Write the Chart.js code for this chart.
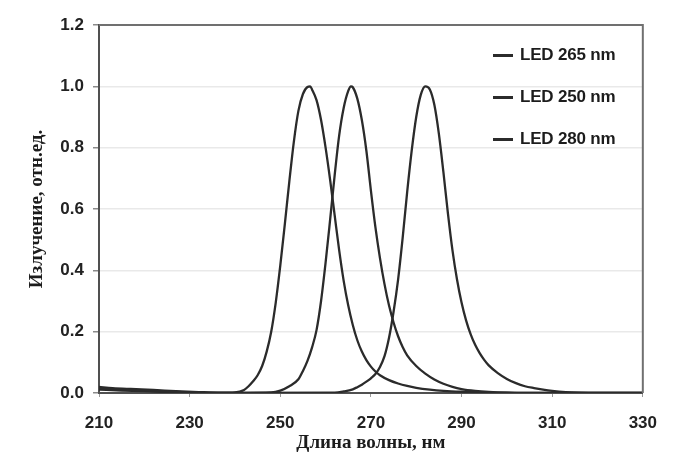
<!DOCTYPE html>
<html>
<head>
<meta charset="utf-8">
<script src="https://cdn.jsdelivr.net/npm/chart.js@4/dist/chart.umd.min.js"></script>
<style>
  body { margin: 0; background: #fff; }
  #wrap { position: relative; width: 673px; height: 459px; }
  #legend { position: absolute; left: 493px; top: 43px; font: bold 17px "Liberation Sans", Arial, sans-serif; color: #1c1c1c; }
  #legend .row { display: flex; align-items: center; height: 24px; margin-bottom: 18px; letter-spacing: -0.2px; }
  #legend .swatch { width: 20px; height: 3px; margin-right: 7px; }
</style>
</head>
<body>
<div id="wrap">
  <canvas id="spectra"></canvas>
  <div id="legend"></div>
</div>
<script>
// Normalised emission spectra of three UV LEDs (wavelength, nm -> relative intensity)
const wl265 = [210, 215, 220, 225, 230, 235, 248, 250, 252, 254, 255, 256, 257, 258, 259, 260, 261, 262, 263, 264, 265, 265.6,
  266, 267, 268, 269, 270, 271, 272, 273, 274, 275, 276, 277, 278, 280, 282, 284, 286, 288, 290, 293, 296, 300, 305, 330];
const led265 = [0.014, 0.011, 0.008, 0.005, 0.002, 0, 0.002, 0.008, 0.022, 0.045, 0.072, 0.105, 0.148, 0.205, 0.3, 0.425, 0.565, 0.71, 0.84, 0.93, 0.985, 1.0,
  0.997, 0.96, 0.89, 0.79, 0.66, 0.54, 0.44, 0.355, 0.285, 0.23, 0.185, 0.15, 0.123, 0.088, 0.063, 0.044, 0.03, 0.02, 0.013, 0.007, 0.0035, 0.001, 0, 0];

const wl250 = [210, 213, 217, 222, 227, 232, 237, 240, 242, 243, 244, 245, 246, 247, 248, 249, 250, 251, 252, 253, 254, 255, 256, 256.6,
  257, 258, 259, 260, 261, 262, 263, 264, 265, 266, 267, 268, 269, 270, 271, 272, 274, 276, 278, 280, 283, 286, 290, 295, 300, 305, 330];
const led250 = [0.02, 0.016, 0.013, 0.01, 0.006, 0.003, 0.001, 0.002, 0.01, 0.022, 0.038, 0.058, 0.088, 0.135, 0.2, 0.295, 0.415, 0.55, 0.69, 0.82, 0.92, 0.975, 0.998, 1.0,
  0.99, 0.955, 0.89, 0.8, 0.695, 0.58, 0.465, 0.365, 0.285, 0.222, 0.172, 0.135, 0.107, 0.086, 0.07, 0.058, 0.042, 0.031, 0.023, 0.017, 0.011, 0.007, 0.004, 0.002, 0.001, 0, 0];

const wl280 = [210, 215, 220, 225, 230, 235, 262, 264, 266, 267, 268, 269, 270, 271, 272, 273, 274, 275, 276, 277, 278, 279, 280, 281, 282,
  283, 284, 285, 286, 287, 288, 289, 290, 291, 292, 293, 294, 295, 296, 298, 300, 302, 304, 306, 308, 310, 313, 316, 320, 330];
const led280 = [0.011, 0.008, 0.006, 0.003, 0.001, 0, 0.001, 0.005, 0.012, 0.019, 0.027, 0.037, 0.048, 0.062, 0.085, 0.12, 0.18, 0.265, 0.37, 0.505, 0.655, 0.79, 0.9, 0.972, 1.0,
  0.99, 0.94, 0.845, 0.72, 0.585, 0.465, 0.37, 0.295, 0.237, 0.192, 0.157, 0.13, 0.108, 0.09, 0.065, 0.046, 0.032, 0.022, 0.016, 0.011, 0.007, 0.003, 0.001, 0, 0];

const seriesLabels = ['LED 265 nm', 'LED 250 nm', 'LED 280 nm'];
const xTicks = [210, 230, 250, 270, 290, 310, 330];
const yTicks = [0, 0.2, 0.4, 0.6, 0.8, 1.0, 1.2];

const lineColor = '#2b2b2b';
const tickFont = { family: '"Liberation Sans", Arial, sans-serif', size: 17, weight: 'bold' };
const titleFont = { family: '"Liberation Serif", "Times New Roman", serif', size: 19, weight: 'bold' };

const toPoints = (xs, ys) => xs.map((x, i) => ({ x, y: ys[i] }));

function lineSet(label, xs, ys) {
  return {
    label,
    data: toPoints(xs, ys),
    borderColor: lineColor,
    backgroundColor: lineColor,
    borderWidth: 2.3,
    pointRadius: 0,
    cubicInterpolationMode: 'monotone',
    fill: false,
  };
}

// top and right edges of the plot frame
const frame = {
  id: 'frame',
  afterDraw(chart) {
    const { ctx, chartArea: a } = chart;
    ctx.save();
    ctx.strokeStyle = '#707070';
    ctx.lineWidth = 2;
    ctx.beginPath();
    ctx.moveTo(a.left, a.top);
    ctx.lineTo(a.right, a.top);
    ctx.lineTo(a.right, a.bottom);
    ctx.stroke();
    ctx.restore();
  },
};

const chart = new Chart(document.getElementById('spectra'), {
  type: 'line',
  data: {
    datasets: [
      lineSet(seriesLabels[0], wl265, led265),
      lineSet(seriesLabels[1], wl250, led250),
      lineSet(seriesLabels[2], wl280, led280),
    ],
  },
  options: {
    responsive: true,
    maintainAspectRatio: false,
    animation: false,
    layout: { padding: { top: 25, right: 25, left: 0, bottom: 0 } },
    plugins: { legend: { display: false }, tooltip: { enabled: false } },
    scales: {
      x: {
        type: 'linear',
        min: xTicks[0],
        max: xTicks[xTicks.length - 1],
        afterBuildTicks: (s) => { s.ticks = xTicks.map(v => ({ value: v })); },
        afterFit: (s) => { s.height = 66; },
        grid: { drawOnChartArea: false, tickLength: 4, tickColor: '#9a9a9a' },
        border: { color: '#505050', width: 2 },
        ticks: { color: '#222', font: tickFont, padding: 16, maxRotation: 0 },
        title: { display: true, text: 'Длина волны, нм', color: '#1c1c1c', font: titleFont, padding: { top: 0, bottom: 5 } },
      },
      y: {
        min: 0,
        max: 1.2,
        afterBuildTicks: (s) => { s.ticks = yTicks.map(v => ({ value: v })); },
        afterFit: (s) => { s.width = 99; },
        grid: { color: '#e9e9e9', lineWidth: 1.5, tickLength: 6, tickColor: '#8a8a8a' },
        border: { color: '#505050', width: 2 },
        ticks: { color: '#222', font: tickFont, padding: 9, callback: v => v.toFixed(1) },
        title: { display: true, text: 'Излучение, отн.ед.', color: '#1c1c1c', font: titleFont, padding: { top: 26, bottom: 0 } },
      },
    },
  },
  plugins: [frame],
});

// legend rows placed inside the plot, top right
const legendEl = document.getElementById('legend');
chart.data.datasets.forEach(ds => {
  const row = document.createElement('div');
  row.className = 'row';
  const sw = document.createElement('span');
  sw.className = 'swatch';
  sw.style.background = ds.borderColor;
  const txt = document.createElement('span');
  txt.textContent = ds.label;
  row.appendChild(sw);
  row.appendChild(txt);
  legendEl.appendChild(row);
});
</script>
</body>
</html>
